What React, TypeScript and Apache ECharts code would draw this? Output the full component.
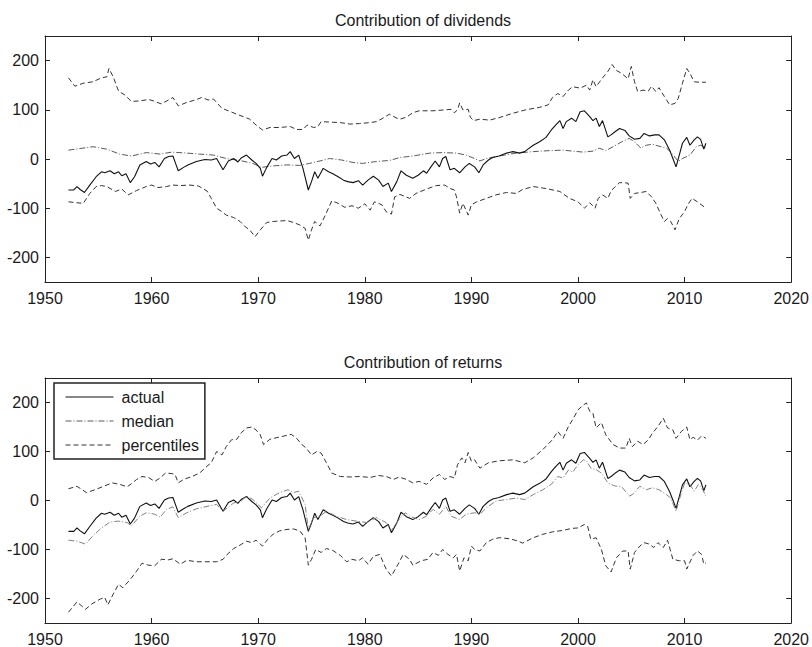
import React, { useEffect, useRef } from "react";
import * as echarts from "echarts";

// ---------- data (year, value) ----------
const xTickValues = [1950, 1960, 1970, 1980, 1990, 2000, 2010, 2020];
const yTickValues = [-200, -100, 0, 100, 200];

const titles = ["Contribution of dividends", "Contribution of returns"];
const legendNames = ["actual", "median", "percentiles"];

// actual (same in both panels)
const actual: [number, number][] = [
  [1952.2, -63], [1952.7, -63], [1953.0, -56], [1953.3, -62], [1953.7, -68], [1954.2, -53],
  [1954.8, -36], [1955.3, -26], [1955.6, -28], [1956.1, -24], [1956.5, -30], [1956.9, -26],
  [1957.2, -34], [1957.6, -30], [1958.0, -48], [1958.4, -36], [1958.9, -12], [1959.5, -5],
  [1959.9, -10], [1960.3, -7], [1960.7, -16], [1961.2, 1], [1961.6, 5], [1962.0, 6],
  [1962.3, -12], [1962.5, -24], [1963.0, -17], [1963.4, -12], [1964.2, -5], [1965.0, -1],
  [1965.6, -2], [1966.1, 1], [1966.7, -22], [1967.2, -4], [1967.7, 1], [1968.1, -6],
  [1968.4, 2], [1968.9, 8], [1969.4, -2], [1969.8, -9], [1970.2, -19], [1970.4, -35],
  [1970.8, -17], [1971.3, 1], [1971.7, -2], [1972.2, 6], [1972.7, 8], [1973.0, 15],
  [1973.4, 1], [1973.8, 8], [1974.2, -19], [1974.7, -63], [1975.0, -46], [1975.3, -26],
  [1975.6, -39], [1976.1, -19], [1976.6, -26], [1977.0, -30], [1977.5, -36], [1978.0, -43],
  [1978.4, -46], [1978.9, -48], [1979.4, -44], [1979.8, -53], [1980.3, -43], [1980.8, -35],
  [1981.3, -43], [1981.7, -56], [1982.2, -49], [1982.5, -66], [1983.0, -46], [1983.4, -24],
  [1983.9, -33], [1984.5, -39], [1985.0, -33], [1985.5, -24], [1985.8, -29], [1986.2, -16],
  [1986.6, -4], [1987.0, -16], [1987.3, 1], [1987.6, 5], [1988.0, -22], [1988.4, -19],
  [1988.9, -28], [1989.4, -16], [1989.8, -9], [1990.3, -16], [1990.7, -28], [1991.1, -12],
  [1991.6, -2], [1992.0, 3], [1992.6, 6], [1993.3, 12], [1993.9, 15], [1994.5, 12],
  [1995.0, 15], [1995.3, 20], [1995.8, 28], [1996.4, 35], [1997.0, 44], [1997.5, 59],
  [1997.9, 69], [1998.3, 78], [1998.6, 62], [1998.9, 76], [1999.4, 83], [1999.8, 76],
  [2000.2, 96], [2000.6, 98], [2001.1, 86], [2001.4, 78], [2001.7, 83], [2002.0, 66],
  [2002.3, 78], [2002.8, 45], [2003.1, 49], [2003.5, 56], [2003.9, 62], [2004.4, 58],
  [2004.8, 47], [2005.3, 40], [2005.8, 42], [2006.2, 52], [2006.7, 47], [2007.2, 49],
  [2007.6, 49], [2008.1, 39], [2008.6, 18], [2008.9, 1], [2009.2, -16], [2009.5, 8],
  [2009.8, 32], [2010.2, 44], [2010.5, 28], [2010.9, 39], [2011.2, 45], [2011.5, 40],
  [2011.8, 20], [2012.0, 32],
];

// dividends panel
const divMedian: [number, number][] = [
  [1952.2, 18], [1954.5, 25], [1955.8, 20], [1957.0, 10], [1958.1, 6], [1959.5, 13],
  [1960.8, 10], [1961.9, 14], [1963.3, 12], [1964.5, 10], [1965.8, 8], [1967.0, 1],
  [1968.3, -3], [1969.5, -9], [1970.3, -17], [1971.4, -14], [1972.7, -12], [1973.9, -13],
  [1974.8, -9], [1975.8, -4], [1976.7, 1], [1977.8, -2], [1978.9, -7], [1979.8, -9],
  [1981.1, -5], [1982.3, -3], [1983.3, 3], [1984.5, 6], [1986.1, 12], [1987.3, 13],
  [1988.6, 12], [1989.5, 8], [1990.3, 1], [1990.8, -4], [1991.4, 1], [1992.6, 6],
  [1994.2, 12], [1995.8, 15], [1997.3, 17], [1998.6, 18], [1999.5, 16], [2000.5, 14],
  [2001.4, 16], [2002.0, 22], [2002.6, 17], [2003.3, 25], [2004.1, 35], [2004.8, 42],
  [2005.3, 35], [2005.9, 22], [2006.4, 28], [2007.0, 30], [2007.6, 26], [2008.3, 22],
  [2008.8, 12], [2009.4, -5], [2009.8, 1], [2010.5, 8], [2011.1, 25], [2011.5, 28],
  [2012.0, 22],
];

const divUpper: [number, number][] = [
  [1952.2, 165], [1952.8, 148], [1953.6, 154], [1954.5, 157], [1955.3, 165], [1955.8, 167],
  [1956.0, 184], [1956.4, 167], [1956.9, 138], [1957.5, 130], [1958.1, 117], [1958.9, 118],
  [1959.7, 121], [1960.2, 118], [1960.9, 112], [1961.6, 120], [1962.0, 125], [1962.5, 108],
  [1963.3, 115], [1964.1, 120], [1964.7, 125], [1965.3, 120], [1965.8, 122], [1966.6, 103],
  [1967.2, 98], [1968.0, 91], [1968.6, 86], [1969.2, 81], [1969.8, 69], [1970.4, 59],
  [1971.1, 64], [1972.0, 64], [1973.0, 66], [1973.6, 60], [1974.2, 60], [1974.6, 69],
  [1975.2, 64], [1975.6, 66], [1975.9, 76], [1976.7, 75], [1977.7, 74], [1978.6, 71],
  [1979.5, 72], [1980.5, 74], [1981.1, 76], [1981.7, 83], [1982.3, 91], [1983.0, 83],
  [1983.3, 81], [1983.9, 85], [1984.5, 94], [1985.1, 98], [1986.4, 98], [1987.6, 100],
  [1988.1, 101], [1988.4, 94], [1988.7, 100], [1988.9, 114], [1989.2, 100], [1989.7, 101],
  [1989.9, 85], [1990.2, 78], [1990.8, 81], [1991.7, 79], [1992.6, 84], [1993.9, 93],
  [1995.1, 100], [1996.4, 105], [1997.2, 110], [1997.6, 125], [1998.1, 133], [1998.6, 127],
  [1999.1, 140], [1999.5, 147], [2000.2, 144], [2000.8, 150], [2001.1, 140], [2001.4, 161],
  [2001.7, 147], [2002.2, 162], [2002.8, 178], [2003.2, 192], [2003.6, 180], [2004.1, 174],
  [2004.7, 163], [2005.0, 188], [2005.3, 157], [2005.6, 137], [2006.1, 140], [2006.6, 138],
  [2006.9, 148], [2007.3, 137], [2007.6, 145], [2008.1, 127], [2008.6, 110], [2009.1, 113],
  [2009.4, 123], [2009.8, 154], [2010.2, 184], [2010.5, 174], [2010.9, 157], [2011.4, 156],
  [2012.0, 156],
];

const divLower: [number, number][] = [
  [1952.2, -87], [1953.0, -89], [1953.6, -90], [1954.2, -70], [1954.8, -56], [1955.3, -54],
  [1955.8, -56], [1956.6, -66], [1957.2, -61], [1957.8, -73], [1958.6, -64], [1959.5, -56],
  [1960.0, -53], [1960.6, -58], [1961.4, -56], [1962.0, -53], [1962.7, -54], [1963.6, -53],
  [1964.4, -55], [1965.2, -65], [1965.6, -80], [1966.1, -100], [1966.6, -107], [1967.0, -114],
  [1967.7, -119], [1968.3, -127], [1968.8, -138], [1969.2, -144], [1969.7, -158], [1970.2, -144],
  [1970.8, -129], [1971.4, -127], [1972.7, -125], [1973.3, -129], [1973.9, -134], [1974.4, -141],
  [1974.7, -165], [1975.0, -144], [1975.3, -127], [1975.8, -136], [1976.3, -114], [1976.9, -85],
  [1977.5, -90], [1978.1, -98], [1978.8, -95], [1979.4, -100], [1980.0, -91], [1980.5, -104],
  [1980.9, -87], [1981.6, -93], [1982.0, -107], [1982.5, -112], [1982.8, -77], [1983.3, -72],
  [1984.2, -80], [1984.8, -70], [1985.8, -61], [1986.7, -54], [1987.5, -53], [1988.0, -60],
  [1988.4, -63], [1988.6, -77], [1988.9, -110], [1989.2, -90], [1989.7, -114], [1990.0, -93],
  [1990.5, -87], [1991.4, -80], [1992.3, -73], [1993.3, -68], [1994.2, -70], [1994.8, -62],
  [1995.8, -56], [1997.0, -60], [1998.3, -66], [1999.2, -80], [2000.0, -87], [2000.6, -100],
  [2001.1, -89], [2001.6, -100], [2001.9, -80], [2002.3, -73], [2002.8, -80], [2003.1, -65],
  [2003.5, -56], [2003.9, -48], [2004.7, -49], [2004.9, -80], [2005.3, -70], [2005.9, -68],
  [2006.4, -66], [2006.9, -77], [2007.3, -90], [2007.8, -114], [2008.1, -127], [2008.4, -121],
  [2008.7, -127], [2009.1, -144], [2009.5, -121], [2010.0, -107], [2010.3, -93], [2010.7, -80],
  [2011.2, -87], [2012.0, -100],
];

// returns panel
const retMedian: [number, number][] = [
  [1952.2, -81], [1953.0, -83], [1953.8, -89], [1954.5, -72], [1955.3, -56], [1956.1, -44],
  [1956.9, -42], [1957.7, -45], [1958.1, -52], [1958.9, -32], [1959.5, -25], [1960.3, -28],
  [1960.8, -34], [1961.4, -18], [1962.0, -13], [1962.5, -35], [1963.3, -25], [1964.2, -17],
  [1965.2, -12], [1966.1, -8], [1966.7, -22], [1967.7, -5], [1968.4, -1], [1968.9, 9],
  [1969.5, 2], [1970.3, -15], [1971.1, 5], [1972.0, 16], [1972.8, 22], [1973.3, 16],
  [1973.8, 19], [1974.4, -8], [1974.7, -59], [1975.2, -35], [1975.8, -32], [1976.4, -22],
  [1977.3, -32], [1978.3, -39], [1979.2, -42], [1980.2, -45], [1981.1, -35], [1982.0, -45],
  [1982.5, -61], [1983.2, -39], [1983.8, -25], [1984.2, -32], [1985.1, -39], [1985.8, -32],
  [1986.4, -18], [1987.0, -28], [1987.6, -12], [1988.1, -32], [1988.9, -39], [1989.5, -28],
  [1990.3, -25], [1990.8, -28], [1991.4, -15], [1992.3, -1], [1993.3, 2], [1994.2, 5],
  [1995.0, 2], [1995.8, 12], [1996.7, 22], [1997.5, 33], [1998.1, 49], [1998.6, 46],
  [1999.1, 62], [1999.5, 58], [2000.0, 73], [2000.5, 83], [2000.8, 81], [2001.2, 66],
  [2001.7, 63], [2002.2, 56], [2002.8, 36], [2003.4, 30], [2004.1, 28], [2004.8, 9],
  [2005.1, 12], [2005.8, 29], [2006.4, 22], [2007.0, 26], [2007.6, 22], [2008.3, 12],
  [2008.7, 5], [2009.2, -22], [2009.5, 2], [2010.0, 36], [2010.5, 33], [2010.9, 19],
  [2011.3, 33], [2011.7, 22], [2012.0, 9],
];

const retUpper: [number, number][] = [
  [1952.2, 24], [1953.0, 29], [1953.9, 16], [1954.7, 22], [1955.5, 29], [1956.3, 36],
  [1957.0, 33], [1957.7, 28], [1958.1, 34], [1958.6, 43], [1959.1, 49], [1959.7, 47],
  [1960.3, 39], [1960.8, 46], [1961.3, 56], [1961.9, 55], [1962.2, 53], [1962.5, 36],
  [1963.0, 43], [1963.8, 49], [1964.5, 56], [1965.2, 70], [1965.6, 77], [1966.1, 100],
  [1966.6, 93], [1967.0, 110], [1967.5, 124], [1968.0, 125], [1968.4, 138], [1968.9, 148],
  [1969.4, 150], [1969.8, 144], [1970.2, 134], [1970.5, 114], [1971.1, 125], [1971.9, 129],
  [1972.7, 133], [1973.1, 135], [1973.6, 127], [1974.1, 114], [1974.5, 107], [1975.0, 93],
  [1975.5, 100], [1975.9, 97], [1976.4, 77], [1976.9, 56], [1977.7, 49], [1978.6, 48],
  [1979.5, 49], [1980.5, 47], [1981.3, 51], [1982.0, 49], [1982.7, 43], [1983.2, 48],
  [1983.9, 43], [1984.5, 36], [1985.1, 39], [1985.8, 33], [1986.4, 46], [1987.0, 53],
  [1987.5, 43], [1988.0, 49], [1988.4, 46], [1988.7, 73], [1989.1, 87], [1989.4, 77],
  [1989.7, 98], [1990.0, 80], [1990.3, 83], [1990.8, 66], [1991.6, 77], [1992.6, 81],
  [1993.9, 83], [1995.0, 77], [1995.8, 87], [1996.7, 104], [1997.6, 124], [1998.1, 141],
  [1998.6, 127], [1999.1, 151], [1999.5, 165], [2000.0, 185], [2000.5, 195], [2000.8, 199],
  [2001.1, 182], [2001.4, 178], [2001.7, 148], [2002.2, 159], [2002.6, 134], [2003.3, 114],
  [2003.9, 107], [2004.5, 107], [2004.8, 127], [2005.1, 110], [2005.6, 121], [2006.1, 114],
  [2006.6, 124], [2007.0, 138], [2007.5, 151], [2008.0, 168], [2008.4, 148], [2008.9, 144],
  [2009.2, 127], [2009.7, 141], [2010.2, 150], [2010.5, 124], [2010.8, 129], [2011.2, 123],
  [2011.6, 132], [2012.0, 127],
];

const retLower: [number, number][] = [
  [1952.2, -228], [1953.0, -207], [1953.8, -222], [1954.4, -211], [1955.2, -201], [1955.6, -198],
  [1955.9, -213], [1956.4, -191], [1956.9, -171], [1957.3, -178], [1958.0, -161], [1958.6, -144],
  [1959.1, -128], [1959.7, -132], [1960.3, -133], [1960.9, -120], [1961.6, -121], [1962.0, -119],
  [1962.7, -130], [1963.3, -122], [1964.2, -125], [1965.2, -125], [1966.1, -125], [1966.7, -120],
  [1967.0, -112], [1967.7, -98], [1968.3, -91], [1968.9, -83], [1969.4, -86], [1969.8, -81],
  [1970.4, -93], [1970.9, -79], [1971.4, -69], [1972.0, -62], [1972.7, -59], [1973.3, -58],
  [1973.9, -62], [1974.4, -76], [1974.7, -132], [1975.0, -120], [1975.4, -100], [1975.9, -106],
  [1976.4, -98], [1977.0, -102], [1977.7, -112], [1978.3, -125], [1978.8, -120], [1979.4, -123],
  [1979.8, -117], [1980.3, -130], [1980.8, -114], [1981.4, -110], [1982.0, -140], [1982.5, -154],
  [1983.2, -127], [1983.6, -110], [1984.2, -120], [1984.5, -132], [1985.3, -123], [1985.9, -120],
  [1986.4, -106], [1986.9, -112], [1987.3, -100], [1987.8, -110], [1988.3, -117], [1988.6, -110],
  [1988.9, -144], [1989.3, -117], [1989.7, -123], [1990.0, -93], [1990.3, -100], [1990.8, -103],
  [1991.4, -86], [1992.0, -79], [1992.6, -76], [1993.6, -78], [1994.4, -83], [1994.8, -87],
  [1995.8, -76], [1996.7, -69], [1997.6, -64], [1998.6, -61], [1999.4, -57], [2000.0, -56],
  [2000.6, -49], [2000.9, -52], [2001.2, -79], [2001.7, -76], [2002.2, -100], [2002.6, -133],
  [2003.1, -146], [2003.6, -117], [2004.2, -103], [2004.7, -103], [2004.9, -140], [2005.3, -106],
  [2005.8, -93], [2006.2, -86], [2006.7, -89], [2007.1, -96], [2007.5, -86], [2008.0, -96],
  [2008.4, -81], [2008.9, -120], [2009.5, -123], [2010.0, -123], [2010.2, -140], [2010.8, -112],
  [2011.2, -103], [2011.6, -110], [2011.8, -130], [2012.0, -127],
];

// ---------- styling ----------
const FONT = "'Liberation Sans', Arial, Helvetica, sans-serif";
const TEXT = "#1a1a1a";
const AXIS = "#222";
const grids = [
  { left: 45, right: 20, top: 36, height: 246 },
  { left: 45, right: 20, top: 378, height: 246 },
];

function makeX(gridIndex: number, position: "bottom" | "top") {
  return {
    type: "value",
    gridIndex,
    position,
    min: 1950,
    max: 2020,
    interval: 10,
    axisLine: { show: true, onZero: false, lineStyle: { color: AXIS, width: 1 } },
    axisTick: { show: true, inside: true, length: 5, lineStyle: { color: AXIS } },
    axisLabel: {
      show: position === "bottom",
      margin: 8,
      color: TEXT,
      fontSize: 16,
      fontFamily: FONT,
      formatter: (v: number) => String(v),
    },
    splitLine: { show: false },
  };
}

function makeY(gridIndex: number, position: "left" | "right") {
  return {
    type: "value",
    gridIndex,
    position,
    min: -250,
    max: 250,
    axisLine: { show: true, onZero: false, lineStyle: { color: AXIS, width: 1 } },
    axisTick: {
      show: true,
      inside: true,
      length: 5,
      customValues: yTickValues,
      lineStyle: { color: AXIS },
    },
    axisLabel: {
      show: position === "left",
      margin: 6,
      color: TEXT,
      fontSize: 16,
      fontFamily: FONT,
      customValues: yTickValues,
      formatter: (v: number) => String(v),
    },
    splitLine: { show: false },
  };
}

const solid = { color: "#111", width: 1.1, type: "solid" };
const dashDot = { color: "#5a5a5a", width: 1, type: [6, 2, 1, 2] };
const dashed = { color: "#333", width: 1, type: [5, 3] };

function line(name: string, data: [number, number][], g: number, lineStyle: any, z = 2) {
  return {
    type: "line",
    name,
    data,
    xAxisIndex: g * 2,
    yAxisIndex: g * 2,
    symbol: "none",
    showSymbol: false,
    lineStyle,
    itemStyle: { color: lineStyle.color },
    z,
    silent: true,
  };
}

export default function App() {
  const ref = useRef<HTMLDivElement>(null);
  useEffect(() => {
    if (!ref.current) return;
    const chart = echarts.init(ref.current, null, { renderer: "svg" });
    chart.setOption({
      animation: false,
      backgroundColor: "#ffffff",
      title: titles.map((t, i) => ({
        text: t,
        left: 418,
        textAlign: "center",
        top: i === 0 ? 7 : 349,
        textStyle: { fontSize: 16, fontWeight: "normal", color: TEXT, fontFamily: FONT },
      })),
      grid: grids.map((g) => ({ ...g, containLabel: false })),
      xAxis: [makeX(0, "bottom"), makeX(0, "top"), makeX(1, "bottom"), makeX(1, "top")],
      yAxis: [makeY(0, "left"), makeY(0, "right"), makeY(1, "left"), makeY(1, "right")],
      legend: {
        data: legendNames,
        orient: "vertical",
        left: 54,
        top: 383,
        padding: [6, 6, 6, 11],
        itemGap: 8,
        itemWidth: 48,
        itemHeight: 14,
        itemStyle: { opacity: 0 },
        lineStyle: { width: 1 },
        borderColor: "#222",
        borderWidth: 1.5,
        backgroundColor: "#ffffff",
        selectedMode: false,
        textStyle: {
          fontSize: 16,
          lineHeight: 16,
          color: TEXT,
          fontFamily: FONT,
          padding: [0, 0, 0, 3],
        },
        z: 10,
      },
      series: [
        line("percentiles", divUpper, 0, dashed),
        line("percentiles", divLower, 0, dashed),
        line("median", divMedian, 0, dashDot),
        line("actual", actual, 0, solid, 3),
        line("percentiles", retUpper, 1, dashed),
        line("percentiles", retLower, 1, dashed),
        line("median", retMedian, 1, { ...dashDot, color: "#808080" }, 3),
        line("actual", actual, 1, solid, 2),
      ],
    });
    return () => chart.dispose();
  }, []);
  return (
    <div
      ref={ref}
      style={{ position: "absolute", left: 0, top: 0, width: 812, height: 647 }}
    />
  );
}
